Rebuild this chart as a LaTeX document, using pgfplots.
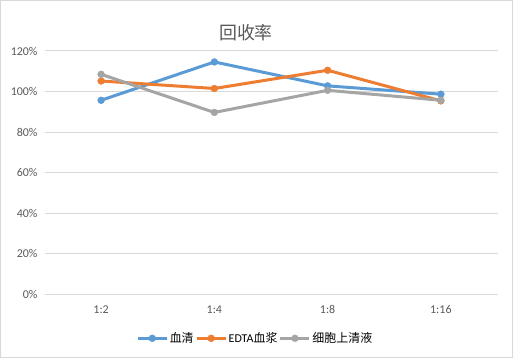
\documentclass[border=0pt]{standalone}
\usepackage{pgfplots}
\pgfplotsset{compat=1.18}
\usepackage{fontspec}
\setmainfont{Carlito}
\newfontfamily\cjk{Noto Sans CJK SC}
\definecolor{cblue}{HTML}{5B9BD5}
\definecolor{corange}{HTML}{ED7D31}
\definecolor{cgray}{HTML}{A5A5A5}
\definecolor{gridc}{HTML}{D9D9D9}
\definecolor{txt}{HTML}{595959}
\begin{document}
\begin{tikzpicture}
\path[use as bounding box] (0bp,0bp) rectangle (513bp,358bp);
\draw[color=gridc, line width=1bp] (0.5bp,0.5bp) rectangle (512.5bp,357.5bp);
\node[text=txt, font=\cjk\fontsize{18}{20}\selectfont] at (246bp,325bp) {回收率};
\begin{axis}[
  at={(44.5bp,63.7bp)}, anchor=south west,
  scale only axis, width=453bp, height=243.3bp,
  xmin=-0.5, xmax=3.5, ymin=0, ymax=120,
  xtick={0,1,2,3}, xticklabels={1:2,1:4,1:8,1:16},
  ytick={0,20,40,60,80,100,120},
  yticklabels={0\%,20\%,40\%,60\%,80\%,100\%,120\%},
  axis line style={draw=none},
  major tick length=0pt,
  ymajorgrids, grid style={color=gridc, line width=1bp},
  tick label style={text=txt, font=\fontsize{12}{14}\selectfont},
  yticklabel style={anchor=east, inner sep=0pt, xshift=-6.8bp},
  xticklabel style={anchor=center, inner sep=0pt, yshift=-15bp},
  every axis plot/.append style={line width=3bp, mark=*, mark size=3.5bp, mark options={solid, line width=0.3bp}},
  legend columns=3,
  legend style={at={(axis description cs:0.4647,-0.1808)}, anchor=center, draw=none, fill=none,
    font=\fontsize{12}{14}\selectfont, text=black, inner sep=0pt,
    nodes={inner sep=1.5bp},
    /tikz/every even column/.append style={column sep=0bp}},
  legend image code/.code={\draw[#1, mark repeat=2, mark phase=2] plot coordinates {(0bp,0bp) (14.5bp,0bp) (29bp,0bp)};},
]
\addplot[color=cblue] coordinates {(0,95.7) (1,114.6) (2,102.8) (3,98.7)};
\addlegendentry{\cjk 血清}
\addplot[color=corange] coordinates {(0,105.2) (1,101.5) (2,110.5) (3,95.4)};
\addlegendentry{EDTA{\cjk 血浆}}
\addplot[color=cgray] coordinates {(0,108.5) (1,89.7) (2,100.6) (3,95.7)};
\addlegendentry{\cjk 细胞上清液}
\end{axis}
\end{tikzpicture}
\end{document}
